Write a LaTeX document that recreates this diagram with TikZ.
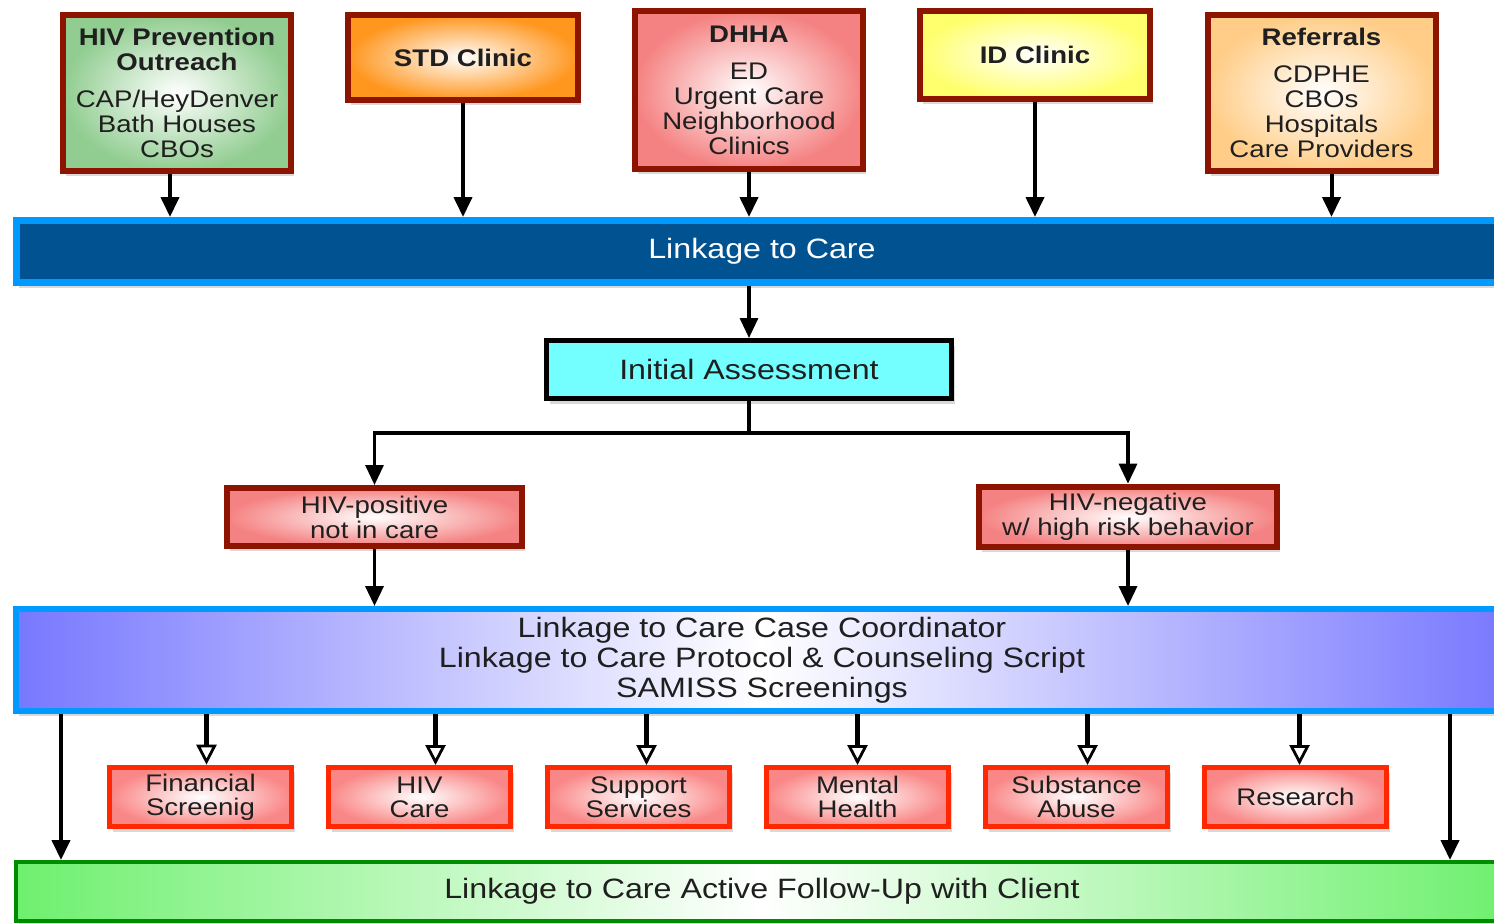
\documentclass[tikz,border=0pt]{standalone}
\usepackage{fontspec}
\setmainfont{Liberation Sans}[FakeStretch=1.15]
\usetikzlibrary{arrows.meta, positioning, shadows}
\definecolor{brd}{RGB}{140,20,0}
\definecolor{grn}{RGB}{145,205,145}
\definecolor{org}{RGB}{255,150,30}
\definecolor{pnk}{RGB}{245,130,130}
\definecolor{ylw}{RGB}{255,255,110}
\definecolor{pch}{RGB}{255,205,135}
\definecolor{redb}{RGB}{255,40,0}
\definecolor{lpnk}{RGB}{250,135,135}
\definecolor{cyn}{RGB}{115,255,255}
\definecolor{skyb}{RGB}{0,153,255}
\definecolor{navy}{RGB}{0,82,145}
\definecolor{lav}{RGB}{120,120,255}
\definecolor{dgrn}{RGB}{0,140,0}
\definecolor{lgrn}{RGB}{110,240,110}
\tikzset{
	>={Triangle[length=10pt,width=9pt]},
	align=center,
	shd/.style={drop shadow={opacity=0.3, shadow xshift=1.5pt, shadow yshift=-2.5pt}},
	src/.style={draw=brd, line width=3pt, inner color=white, shd, font=\fontsize{12}{12.5}\selectfont, minimum width=114pt},
	bar/.style={line width=3pt, minimum width=746pt, font=\fontsize{14}{15}\selectfont, shd},
	sub/.style={draw=redb, line width=2.5pt, inner color=white, outer color=lpnk, minimum width=91pt, minimum height=29.5pt, font=\fontsize{12}{12}\selectfont, shd},
	arr/.style={->, line width=2pt},
	oarr/.style={-{Triangle[fill=white, length=10pt, width=10pt, line width=1.4pt]}, line width=2.5pt}
}
\begin{document}
\begin{tikzpicture}[x=0.5pt, y=-0.5pt, text=black!88]
	\useasboundingbox (0,0) rectangle (1494,923);
	\node[src, outer color=grn, minimum height=78pt] (hiv) at (177,93) {\textbf{HIV Prevention}\\\textbf{Outreach}\\[6pt]CAP/HeyDenver\\Bath Houses\\CBOs};
	\node[src, outer color=org, minimum width=115pt, minimum height=42.5pt] (std) at (463,57.5) {\textbf{STD Clinic}};
	\node[src, outer color=pnk, minimum height=79pt] (dhha) at (749,90) {\textbf{DHHA}\\[6pt]ED\\Urgent Care\\Neighborhood\\Clinics};
	\node[src, outer color=ylw, minimum width=115pt, minimum height=44pt] (idc) at (1035,55) {\textbf{ID Clinic}};
	\node[src, outer color=pch, minimum height=78pt] (ref) at (1321.5,93) {\textbf{Referrals}\\[6pt]CDPHE\\CBOs\\Hospitals\\Care Providers};

	\node[bar, draw=skyb, fill=navy, line width=3.5pt, minimum height=31pt, text=white] (ltc) at (762,251.5) {Linkage to Care};
	\node[draw=black, line width=2.5pt, fill=cyn, minimum width=202.5pt, minimum height=29pt, font=\fontsize{14}{15}\selectfont, shd] (ia) at (749,369.5) {Initial Assessment};
	\node[src, outer color=pnk, minimum width=147.5pt, minimum height=29pt] (pos) at (374.5,517) {HIV-positive\\not in care};
	\node[src, outer color=pnk, minimum width=149pt, minimum height=29pt] (neg) at (1128,517) {HIV-negative\\w/ high risk behavior};

	\node[bar, draw=skyb, left color=lav, right color=lav, middle color=white, minimum height=51pt] (coord) at (762,660) {Linkage to Care Case Coordinator\\Linkage to Care Protocol \& Counseling Script\\SAMISS Screenings};

	\node[sub] (fin) at (200.5,797) {Financial\\Screenig};
	\node[sub, right=16pt of fin] (care) {HIV\\Care};
	\node[sub, right=16pt of care] (supp) {Support\\Services};
	\node[sub, right=16pt of supp] (ment) {Mental\\Health};
	\node[sub, right=16pt of ment] (subs) {Substance\\Abuse};
	\node[sub, right=16pt of subs] (res) {Research};

	\node[bar, draw=dgrn, line width=2pt, left color=lgrn, right color=lgrn, middle color=white, minimum height=29.5pt] (follow) at (762,891.5) {Linkage to Care Active Follow-Up with Client};

	\draw
%	sources
	([xshift=-3.5pt]hiv.south) edge[arr] ([xshift=-3.5pt]hiv.south |- ltc.north)
	(std.south) edge[arr] (std.south |- ltc.north)
	(dhha.south) edge[arr] (dhha.south |- ltc.north)
	(idc.south) edge[arr] (idc.south |- ltc.north)
	([xshift=5pt]ref.south) edge[arr] ([xshift=5pt]ref.south |- ltc.north)

%	down to follow-up
	([xshift=24pt]coord.south west) edge[arr] ([xshift=24pt]coord.south west |- follow.north)
	([xshift=-30.5pt]coord.south east) edge[arr] ([xshift=-30.5pt]coord.south east |- follow.north)
	;
	\draw[arr, line width=1.6pt] (ltc.south -| ia.north) -- (ia.north);
	\draw[arr, line width=1.6pt] (ia.south) -- ++(0,32) -| (pos.north);
	\draw[arr, line width=1.6pt] (ia.south) -- ++(0,32) -| (neg.north);
	\draw[arr, line width=1.8pt] (pos.south) -- (pos.south |- coord.north);
	\draw[arr, line width=1.8pt] (neg.south) -- (neg.south |- coord.north);
	\foreach \n/\d in {fin/3pt, care/8pt, supp/4pt, ment/0pt, subs/5.5pt, res/2pt}
		\draw[oarr] ([xshift=\d]\n.north |- coord.south) -- ([xshift=\d]\n.north);
\end{tikzpicture}
\end{document}
